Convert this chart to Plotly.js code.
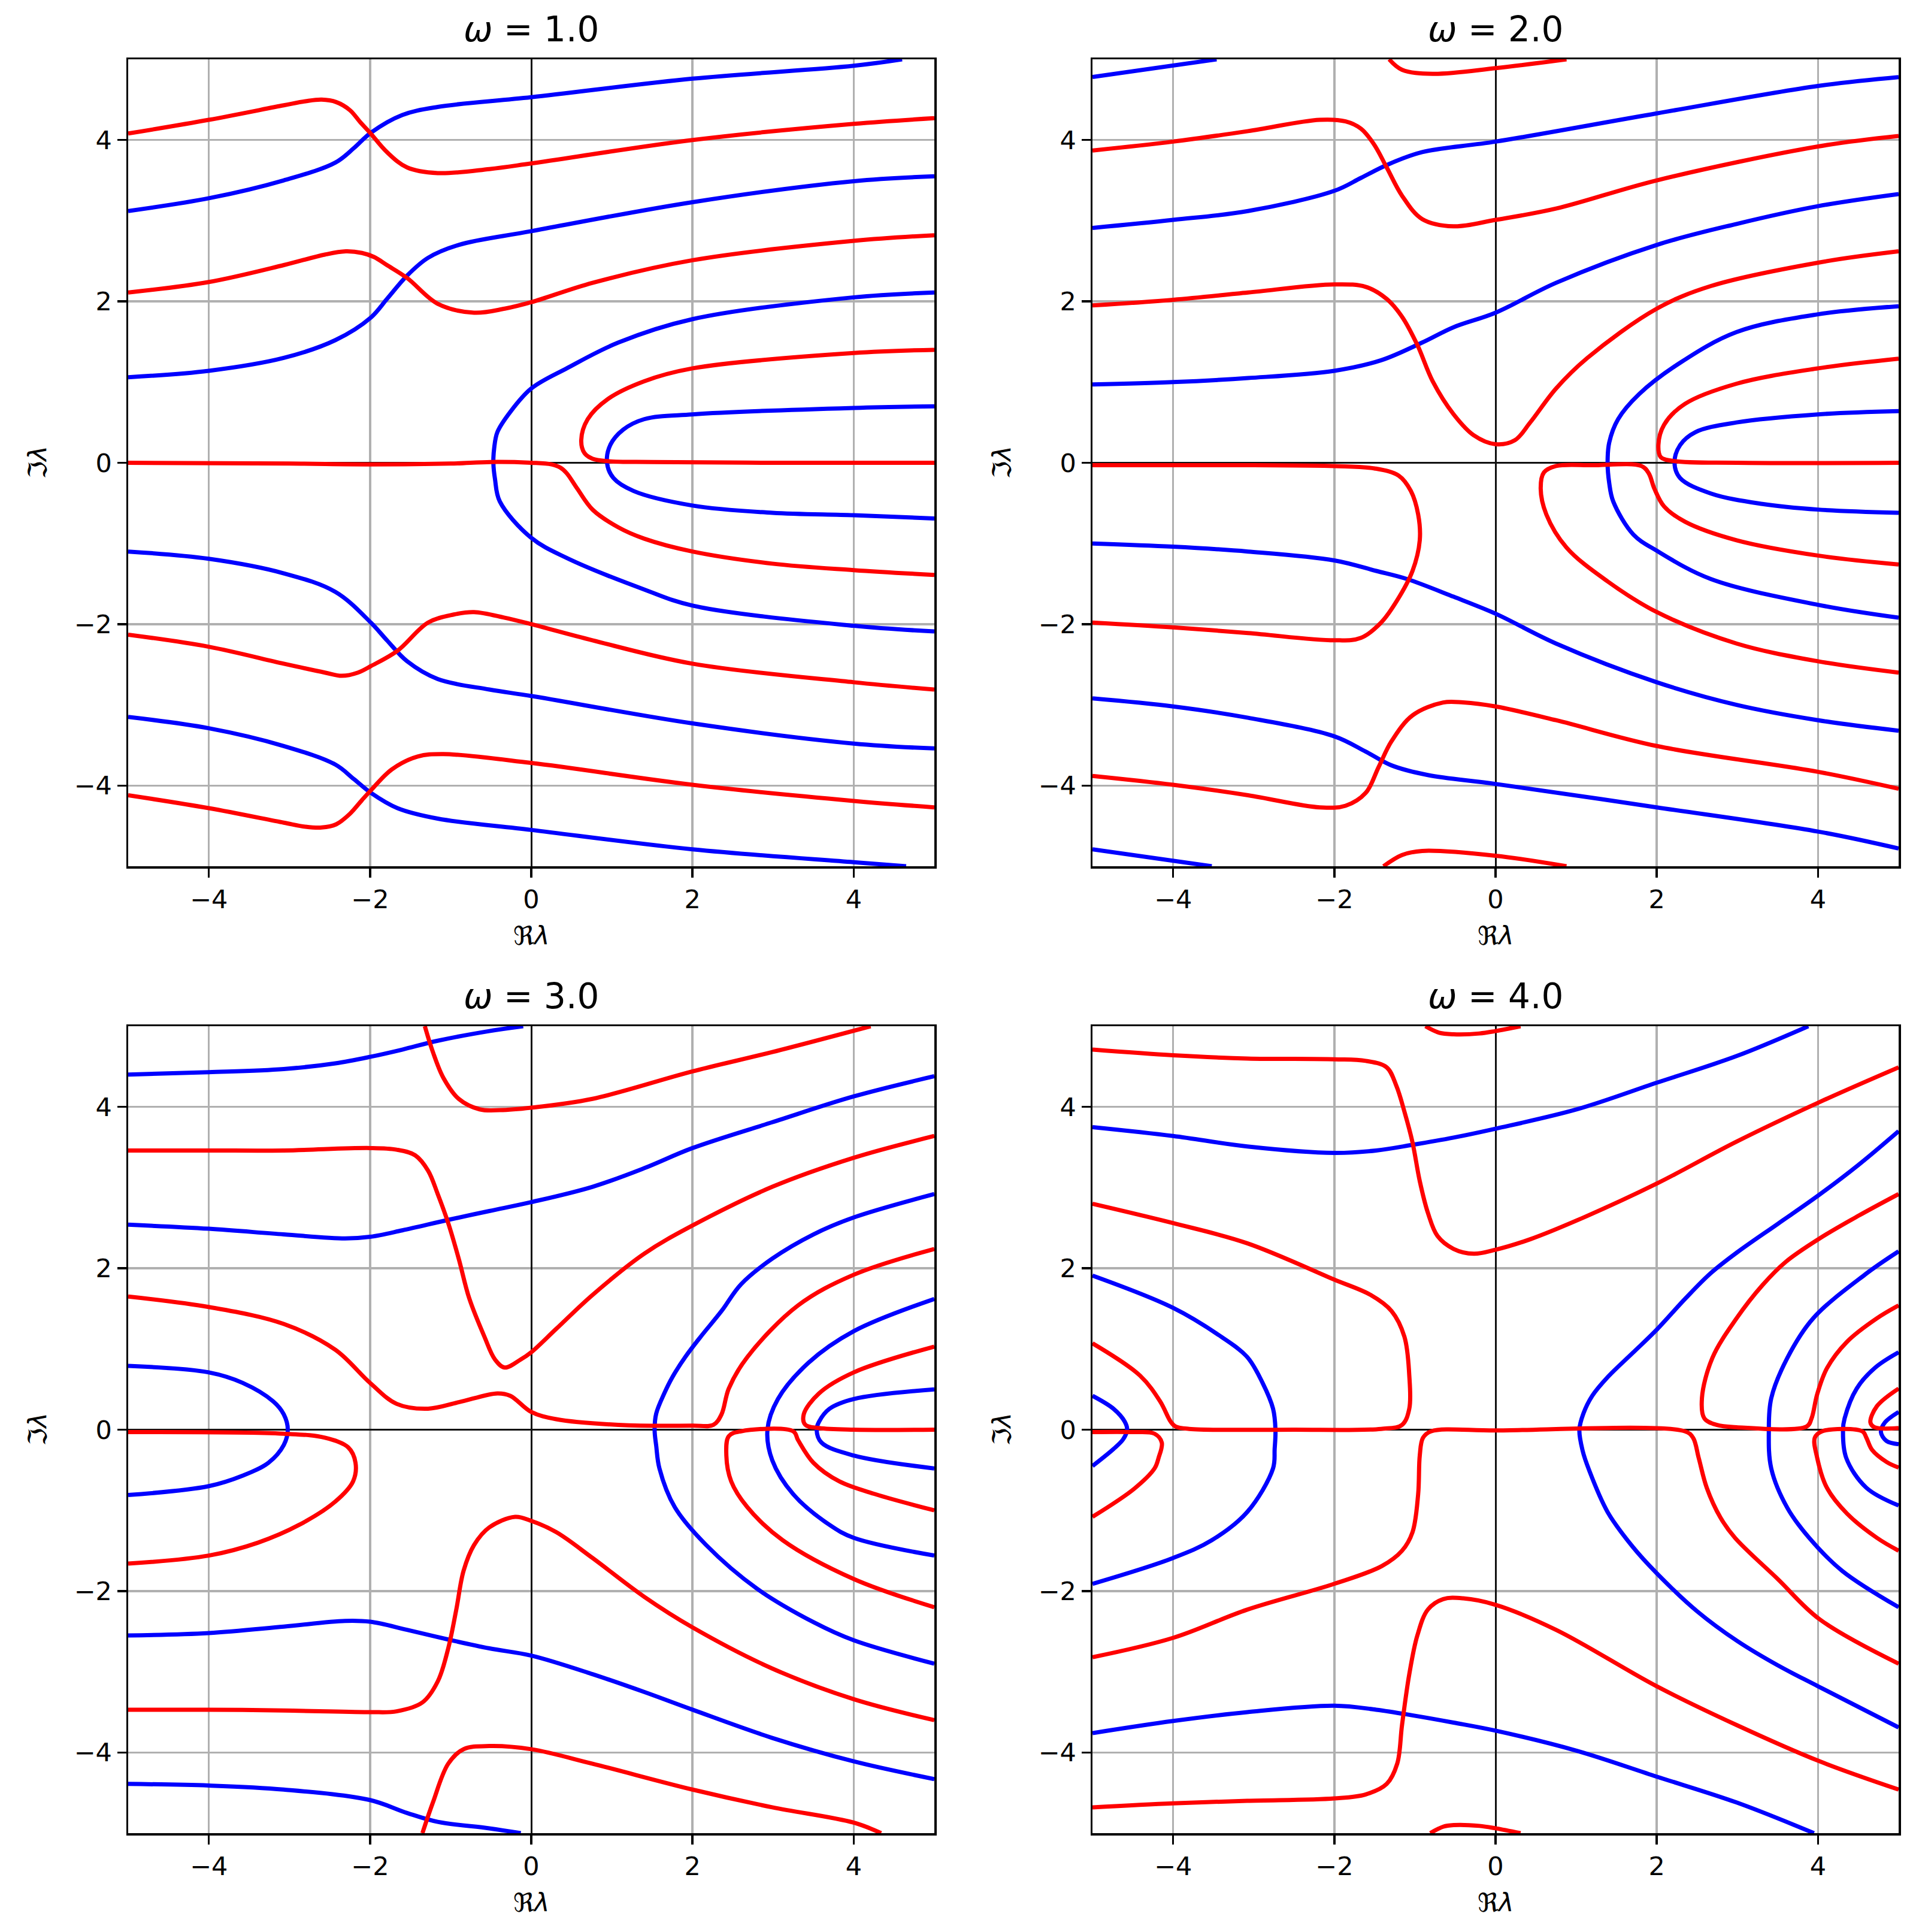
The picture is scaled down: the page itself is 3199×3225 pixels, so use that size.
<!DOCTYPE html>
<html><head><meta charset="utf-8">
<script src="https://cdn.plot.ly/plotly-3.0.1.min.js"></script>
<style>body{margin:0;background:#fff}</style>
</head><body>
<div id="chart" style="width:3199px;height:3225px"></div>
<script>
// ---------- ω = 1.0 ----------
const w1_blue_1 = [[-5,3.12],[-3.99,3.28],[-3.07,3.50],[-2.43,3.72],[-2.2,3.90],[-1.99,4.09],[-1.60,4.31],[-1.16,4.41],[0,4.53],[2,4.76],[4,4.92],[4.6,5.0]];
const w1_blue_2 = [[-5,1.06],[-4,1.14],[-3.07,1.30],[-2.43,1.52],[-1.99,1.80],[-1.79,2.03],[-1.54,2.32],[-1.28,2.54],[-0.9,2.70],[0,2.87],[2,3.23],[4,3.49],[5,3.55]];
const w1_blue_3 = [[5,2.11],[4,2.05],[2,1.78],[1.08,1.49],[0.44,1.17],[0,0.92],[-0.26,0.63],[-0.42,0.38],[-0.46,0.18],[-0.47,0],[-0.45,-0.2],[-0.39,-0.48],[0,-0.93],[0.44,-1.18],[1.40,-1.57],[2,-1.77],[4,-2.02],[5,-2.09]];
const w1_blue_4 = [[5,0.70],[4,0.68],[2,0.60],[1.40,0.54],[1.14,0.41],[0.98,0.22],[0.94,0],[1.02,-0.19],[1.27,-0.35],[2,-0.53],[2.99,-0.62],[4,-0.65],[5,-0.69]];
const w1_blue_5 = [[-5,-1.10],[-4,-1.19],[-3.07,-1.37],[-2.43,-1.60],[-1.99,-1.98],[-1.79,-2.20],[-1.54,-2.46],[-1.16,-2.68],[-0.52,-2.81],[0,-2.89],[2,-3.23],[4,-3.48],[5,-3.54]];
const w1_blue_6 = [[-5,-3.15],[-4,-3.29],[-3.07,-3.51],[-2.43,-3.74],[-2.2,-3.92],[-1.99,-4.09],[-1.66,-4.28],[-1.16,-4.41],[0,-4.55],[2,-4.79],[4,-4.95],[4.65,-5.0]];
const w1_red_1 = [[-5,4.08],[-4,4.25],[-3.07,4.43],[-2.8,4.48],[-2.6,4.50],[-2.42,4.47],[-2.25,4.37],[-2.12,4.22],[-2.0,4.09],[-1.79,3.85],[-1.54,3.66],[-1.16,3.59],[-0.52,3.64],[0,3.71],[2,4.0],[4,4.20],[5,4.27]];
const w1_red_2 = [[-5,2.11],[-4,2.24],[-3.07,2.45],[-2.56,2.58],[-2.3,2.62],[-2.1,2.60],[-1.95,2.55],[-1.79,2.45],[-1.54,2.29],[-1.16,1.97],[-0.71,1.86],[-0.33,1.91],[0,1.99],[0.76,2.23],[2,2.51],[4,2.75],[5,2.82]];
const w1_red_3 = [[5,1.40],[4,1.36],[2,1.17],[1.40,1.01],[0.95,0.79],[0.70,0.54],[0.62,0.28],[0.66,0.12],[0.76,0.05],[0.95,0.02],[1.5,0.01],[3,0.0],[5,0.0]];
const w1_red_4 = [[-5,0.0],[-3,-0.01],[-2,-0.02],[-1,-0.01],[-0.5,0.01],[0,0.0],[0.25,-0.02],[0.36,-0.06],[0.44,-0.13],[0.57,-0.32],[0.76,-0.58],[1.08,-0.80],[1.40,-0.94],[2,-1.10],[2.99,-1.25],[4,-1.33],[5,-1.39]];
const w1_red_5 = [[-5,-2.13],[-4,-2.28],[-3.07,-2.49],[-2.56,-2.60],[-2.35,-2.64],[-2.15,-2.60],[-1.99,-2.52],[-1.66,-2.33],[-1.28,-1.98],[-0.96,-1.88],[-0.71,-1.85],[-0.33,-1.92],[0,-2.0],[0.76,-2.20],[2,-2.49],[4,-2.72],[5,-2.81]];
const w1_red_6 = [[-5,-4.12],[-4,-4.28],[-3.07,-4.46],[-2.8,-4.51],[-2.6,-4.52],[-2.42,-4.48],[-2.25,-4.35],[-2.1,-4.18],[-1.99,-4.06],[-1.73,-3.80],[-1.41,-3.64],[-1.09,-3.61],[0,-3.72],[2,-3.99],[4,-4.19],[5,-4.27]];

// ---------- ω = 2.0 ----------
const w2_blue_0 = [[-5,4.78],[-3.46,5.0]];
const w2_blue_1 = [[-5,2.91],[-4,3.01],[-3.07,3.12],[-2,3.37],[-1.67,3.53],[-1.35,3.69],[-0.91,3.85],[0,3.98],[2,4.33],[4,4.67],[5,4.78]];
const w2_blue_2 = [[-5,0.97],[-4,1.0],[-3.07,1.05],[-2,1.14],[-1.42,1.27],[-0.91,1.49],[-0.52,1.68],[0,1.86],[0.75,2.23],[2,2.70],[2.99,2.96],[4,3.18],[5,3.33]];
const w2_blue_3 = [[5,1.94],[4,1.84],[2.99,1.62],[2.29,1.24],[1.78,0.85],[1.52,0.54],[1.41,0.25],[1.39,0],[1.41,-0.25],[1.46,-0.48],[1.71,-0.89],[2,-1.09],[2.67,-1.44],[4,-1.76],[5,-1.92]];
const w2_blue_4 = [[5,0.64],[4,0.60],[2.99,0.50],[2.48,0.38],[2.29,0.22],[2.22,0],[2.29,-0.19],[2.67,-0.38],[3.31,-0.51],[4,-0.58],[5,-0.62]];
const w2_blue_5 = [[-5,-1.0],[-4,-1.04],[-3.07,-1.10],[-2,-1.21],[-1.48,-1.34],[-1.1,-1.44],[-0.52,-1.66],[0,-1.87],[0.75,-2.24],[2,-2.72],[2.99,-3.0],[4,-3.19],[5,-3.32]];
const w2_blue_6 = [[-5,-2.92],[-4,-3.02],[-3.07,-3.16],[-2,-3.39],[-1.61,-3.58],[-1.29,-3.75],[-0.84,-3.87],[0,-3.98],[2,-4.27],[4,-4.57],[5,-4.78]];
const w2_blue_7 = [[-5,-4.79],[-3.52,-5.0]];
const w2_red_0 = [[-1.32,5.0],[-1.16,4.87],[-0.78,4.82],[0,4.89],[0.88,5.0]];
const w2_red_1 = [[-5,3.87],[-4,3.98],[-3.07,4.11],[-2.18,4.25],[-1.86,4.23],[-1.67,4.14],[-1.51,3.95],[-1.35,3.66],[-1.16,3.31],[-0.91,3.02],[-0.52,2.93],[0,3.01],[0.75,3.15],[2,3.50],[4,3.92],[5,4.05]];
const w2_red_2 = [[-5,1.95],[-4,2.02],[-3.07,2.11],[-2,2.21],[-1.61,2.18],[-1.35,2.03],[-1.16,1.81],[-0.97,1.46],[-0.78,1.01],[-0.52,0.60],[-0.27,0.34],[0,0.23],[0.24,0.28],[0.43,0.50],[0.75,0.92],[1.14,1.30],[2,1.91],[2.67,2.19],[4,2.48],[5,2.62]];
const w2_red_3 = [[5,1.29],[4,1.17],[2.99,0.98],[2.35,0.73],[2.09,0.47],[2.02,0.22],[2.05,0.07],[2.22,0.02],[3,0.0],[5,0.0]];
const w2_red_4 = [[-5,-0.03],[-3,-0.03],[-2,-0.04],[-1.5,-0.07],[-1.2,-0.16],[-1.05,-0.35],[-0.96,-0.64],[-0.94,-0.96],[-1.03,-1.34],[-1.23,-1.72],[-1.42,-1.98],[-1.67,-2.17],[-2,-2.20],[-3.07,-2.11],[-4,-2.04],[-5,-1.98]];
const w2_red_5 = [[5,-2.60],[4,-2.46],[2.99,-2.24],[2,-1.85],[1.39,-1.47],[0.88,-1.05],[0.63,-0.64],[0.56,-0.32],[0.60,-0.12],[0.75,-0.04],[1.2,-0.03],[1.81,-0.04],[1.90,-0.13],[1.97,-0.32],[2.09,-0.54],[2.35,-0.73],[2.99,-0.96],[4,-1.15],[5,-1.26]];
const w2_red_6 = [[-5,-3.88],[-4,-3.99],[-3.07,-4.12],[-2.18,-4.27],[-1.86,-4.25],[-1.61,-4.09],[-1.45,-3.77],[-1.29,-3.45],[-1.03,-3.13],[-0.65,-2.97],[-0.40,-2.97],[0,-3.02],[0.75,-3.19],[2,-3.51],[4,-3.83],[5,-4.04]];
const w2_red_7 = [[-1.39,-5.0],[-1.16,-4.86],[-0.91,-4.81],[0,-4.87],[0.88,-5.0]];

// ---------- ω = 3.0 ----------
const w3_blue_0 = [[-5,4.40],[-4,4.43],[-3.07,4.47],[-2.43,4.54],[-2,4.62],[-1.60,4.71],[-1.16,4.82],[-0.52,4.94],[-0.1,5.0]];
const w3_blue_1 = [[-5,2.54],[-4,2.49],[-3.07,2.42],[-2.31,2.37],[-2,2.39],[-1.60,2.47],[-1.03,2.60],[-0.52,2.71],[0,2.82],[0.76,3.01],[1.40,3.24],[2,3.49],[2.99,3.81],[4,4.13],[5,4.38]];
const w3_blue_2 = [[5,2.92],[4,2.63],[3.5,2.42],[2.99,2.12],[2.6,1.8],[2.36,1.47],[2.1,1.15],[1.91,0.90],[1.75,0.65],[1.65,0.45],[1.55,0.2],[1.53,0],[1.55,-0.2],[1.59,-0.48],[1.78,-0.96],[2.17,-1.43],[2.80,-1.97],[3.51,-2.39],[4,-2.61],[5,-2.90]];
const w3_blue_3 = [[5,1.62],[4,1.22],[3.44,0.83],[3.06,0.38],[2.93,0],[2.99,-0.38],[3.25,-0.80],[3.70,-1.18],[4,-1.34],[5,-1.56]];
const w3_blue_4 = [[5,0.50],[4,0.38],[3.70,0.26],[3.57,0.10],[3.54,0],[3.6,-0.16],[4,-0.32],[5,-0.48]];
const w3_blue_5 = [[-5,0.79],[-4,0.71],[-3.58,0.58],[-3.2,0.35],[-3.07,0.19],[-3.02,0],[-3.07,-0.19],[-3.26,-0.41],[-3.58,-0.57],[-4,-0.70],[-5,-0.81]];
const w3_blue_6 = [[-5,-2.55],[-4,-2.52],[-3.07,-2.44],[-2.31,-2.37],[-2,-2.38],[-1.54,-2.48],[-1.03,-2.60],[-0.52,-2.71],[0,-2.80],[0.76,-3.03],[1.40,-3.25],[2,-3.47],[2.99,-3.82],[4,-4.11],[5,-4.33]];
const w3_blue_7 = [[-5,-4.39],[-4,-4.41],[-3.07,-4.46],[-2,-4.59],[-1.54,-4.75],[-1.16,-4.86],[-0.52,-4.94],[-0.13,-5.0]];
const w3_red_0 = [[-1.32,5.0],[-1.22,4.68],[-1.09,4.36],[-0.90,4.10],[-0.64,3.97],[-0.39,3.96],[0,3.99],[0.76,4.10],[2,4.44],[2.99,4.68],[4.21,5.0]];
const w3_red_1 = [[-5,3.46],[-4,3.46],[-3.07,3.46],[-2,3.49],[-1.67,3.47],[-1.44,3.40],[-1.28,3.21],[-1.16,2.92],[-1.03,2.56],[-0.90,2.12],[-0.77,1.63],[-0.58,1.15],[-0.45,0.87],[-0.33,0.77],[-0.13,0.87],[0,0.96],[0.31,1.25],[0.76,1.67],[1.40,2.18],[2,2.53],[2.99,3.01],[4,3.37],[5,3.64]];
const w3_red_2 = [[-5,1.65],[-4,1.52],[-3.07,1.31],[-2.43,0.99],[-2,0.58],[-1.67,0.32],[-1.28,0.26],[-0.90,0.34],[-0.42,0.45],[-0.26,0.42],[0,0.22],[0.31,0.13],[1.08,0.06],[2,0.05],[2.26,0.06],[2.36,0.19],[2.45,0.51],[2.68,0.90],[3.31,1.54],[4,1.92],[5,2.24]];
const w3_red_3 = [[5,1.03],[4,0.71],[3.57,0.45],[3.38,0.19],[3.40,0.06],[3.57,0.02],[4,0.0],[5,0.0]];
const w3_red_4 = [[-5,-0.03],[-3.07,-0.05],[-2.56,-0.10],[-2.27,-0.22],[-2.18,-0.41],[-2.21,-0.64],[-2.43,-0.89],[-2.88,-1.18],[-3.39,-1.40],[-4,-1.56],[-5,-1.66]];
const w3_red_5 = [[5,-2.20],[4,-1.85],[3.12,-1.37],[2.68,-0.96],[2.48,-0.64],[2.42,-0.32],[2.45,-0.08],[2.6,-0.02],[3.25,-0.02],[3.31,-0.13],[3.5,-0.41],[3.82,-0.64],[4.27,-0.80],[5,-1.0]];
const w3_red_6 = [[-5,-3.47],[-4,-3.47],[-3.07,-3.48],[-2,-3.50],[-1.67,-3.49],[-1.35,-3.38],[-1.16,-3.12],[-1.03,-2.71],[-0.93,-2.23],[-0.84,-1.75],[-0.71,-1.43],[-0.52,-1.21],[-0.2,-1.08],[0,-1.13],[0.31,-1.27],[0.76,-1.59],[1.40,-2.07],[2,-2.45],[2.99,-2.96],[4,-3.34],[5,-3.60]];
const w3_red_7 = [[-1.35,-5.0],[-1.22,-4.62],[-1.03,-4.14],[-0.84,-3.96],[-0.52,-3.92],[0,-3.96],[0.76,-4.14],[2,-4.46],[2.99,-4.68],[4,-4.87],[4.34,-5.0]];

// ---------- ω = 4.0 ----------
const w4_blue_1 = [[-5,3.75],[-4,3.64],[-3.08,3.51],[-2,3.43],[-1.48,3.46],[-1.03,3.53],[-0.52,3.62],[0,3.73],[1.01,3.97],[2,4.30],[2.99,4.63],[3.88,5.0]];
const w4_blue_2 = [[-5,1.91],[-4,1.51],[-3.40,1.15],[-3.08,0.90],[-2.89,0.58],[-2.76,0.26],[-2.73,0],[-2.74,-0.24],[-2.76,-0.48],[-3.08,-1.02],[-3.52,-1.37],[-4,-1.59],[-5,-1.91]];
const w4_blue_3 = [[-5,0.42],[-4.74,0.26],[-4.6,0.1],[-4.57,0],[-4.62,-0.12],[-4.74,-0.24],[-5,-0.45]];
const w4_blue_4 = [[5,3.70],[4.5,3.28],[4,2.9],[3.5,2.55],[3,2.2],[2.67,1.94],[2.35,1.62],[2,1.24],[1.7,0.95],[1.39,0.65],[1.2,0.42],[1.09,0.2],[1.04,0],[1.08,-0.26],[1.16,-0.5],[1.39,-1.02],[1.7,-1.45],[2,-1.78],[2.5,-2.25],[3,-2.62],[3.5,-2.92],[4,-3.18],[5,-3.69]];
const w4_blue_5 = [[5,2.21],[4.58,1.92],[3.94,1.38],[3.62,0.89],[3.42,0.39],[3.39,0],[3.42,-0.48],[3.62,-0.97],[3.89,-1.34],[4.3,-1.75],[5,-2.20]];
const w4_blue_6 = [[5,0.96],[4.71,0.77],[4.48,0.51],[4.33,0.14],[4.31,0],[4.35,-0.35],[4.6,-0.72],[5,-0.94]];
const w4_blue_7 = [[5,0.22],[4.83,0.09],[4.78,-0.03],[4.85,-0.14],[5,-0.18]];
const w4_blue_8 = [[-5,-3.76],[-4,-3.61],[-3.08,-3.50],[-2,-3.42],[-1.48,-3.47],[-1.03,-3.54],[-0.52,-3.63],[0,-3.73],[1.01,-3.98],[2,-4.30],[2.99,-4.62],[3.95,-5.0]];
const w4_red_0 = [[-0.87,5.0],[-0.7,4.92],[-0.52,4.90],[-0.2,4.91],[0,4.94],[0.31,5.0]];
const w4_red_1 = [[-5,4.71],[-4,4.64],[-3.08,4.60],[-2,4.59],[-1.61,4.57],[-1.35,4.49],[-1.23,4.26],[-1.13,3.94],[-1.03,3.56],[-0.94,3.08],[-0.84,2.69],[-0.72,2.40],[-0.52,2.24],[-0.27,2.18],[0,2.23],[0.43,2.36],[1.07,2.62],[2,3.05],[2.99,3.57],[4.02,4.06],[5,4.49]];
const w4_red_2 = [[-5,2.80],[-4,2.56],[-3.08,2.31],[-2,1.86],[-1.55,1.67],[-1.29,1.47],[-1.13,1.15],[-1.07,0.67],[-1.07,0.26],[-1.16,0.06],[-1.42,0.01],[-2.5,0.0],[-3.8,0.01],[-3.97,0.04],[-4.03,0.10],[-4.16,0.35],[-4.41,0.67],[-5,1.07]];
const w4_red_3 = [[5,2.92],[4.5,2.65],[4.02,2.37],[3.6,2.08],[3.31,1.79],[2.99,1.38],[2.69,0.89],[2.56,0.39],[2.59,0.14],[2.74,0.06],[2.99,0.03],[3.86,0.04],[3.92,0.14],[3.99,0.44],[4.11,0.76],[4.36,1.09],[4.73,1.38],[5,1.54]];
const w4_red_4 = [[5,0.51],[4.73,0.29],[4.65,0.09],[4.7,0.03],[5,0.02]];
const w4_red_5 = [[5,-1.50],[4.73,-1.34],[4.36,-1.04],[4.11,-0.72],[3.99,-0.35],[3.96,-0.1],[4.05,-0.02],[4.55,-0.02],[4.6,-0.1],[4.67,-0.25],[4.85,-0.40],[5,-0.47]];
const w4_red_6 = [[-5,-2.82],[-4,-2.58],[-3.08,-2.23],[-2,-1.91],[-1.41,-1.69],[-1.16,-1.50],[-1.03,-1.27],[-0.96,-0.80],[-0.94,-0.32],[-0.90,-0.1],[-0.8,-0.02],[0,-0.01],[2.35,-0.02],[2.45,-0.10],[2.52,-0.35],[2.62,-0.72],[2.79,-1.09],[2.97,-1.34],[3.50,-1.85],[4.02,-2.35],[5,-2.90]];
const w4_red_7 = [[-5,-0.03],[-4.5,-0.03],[-4.23,-0.05],[-4.14,-0.16],[-4.18,-0.35],[-4.23,-0.48],[-4.48,-0.73],[-5,-1.08]];
const w4_red_8 = [[-5,-4.68],[-4,-4.63],[-3.08,-4.60],[-2,-4.57],[-1.61,-4.52],[-1.35,-4.39],[-1.22,-4.14],[-1.16,-3.66],[-1.07,-3.03],[-0.97,-2.55],[-0.84,-2.23],[-0.65,-2.10],[-0.40,-2.09],[0,-2.17],[0.75,-2.48],[2,-3.18],[2.99,-3.66],[4.02,-4.11],[5,-4.46]];
const w4_red_9 = [[-0.81,-5.0],[-0.65,-4.92],[-0.52,-4.90],[-0.2,-4.91],[0,-4.94],[0.31,-5.0]];

// panel titles and tick labels
const panelTitles = ['<i>ω</i> = 1.0', '<i>ω</i> = 2.0', '<i>ω</i> = 3.0', '<i>ω</i> = 4.0'];
const tickValues = [-4, -2, 0, 2, 4];
const tickLabels = ['−4', '−2', '0', '2', '4'];
const xLabel = 'ℜ<i>λ</i>';
const yLabel = 'ℑ<i>λ</i>';

const panelBlue = [
  [w1_blue_1, w1_blue_2, w1_blue_3, w1_blue_4, w1_blue_5, w1_blue_6],
  [w2_blue_0, w2_blue_1, w2_blue_2, w2_blue_3, w2_blue_4, w2_blue_5, w2_blue_6, w2_blue_7],
  [w3_blue_0, w3_blue_1, w3_blue_2, w3_blue_3, w3_blue_4, w3_blue_5, w3_blue_6, w3_blue_7],
  [w4_blue_1, w4_blue_2, w4_blue_3, w4_blue_4, w4_blue_5, w4_blue_6, w4_blue_7, w4_blue_8]
];
const panelRed = [
  [w1_red_1, w1_red_2, w1_red_3, w1_red_4, w1_red_5, w1_red_6],
  [w2_red_0, w2_red_1, w2_red_2, w2_red_3, w2_red_4, w2_red_5, w2_red_6, w2_red_7],
  [w3_red_0, w3_red_1, w3_red_2, w3_red_3, w3_red_4, w3_red_5, w3_red_6, w3_red_7],
  [w4_red_0, w4_red_1, w4_red_2, w4_red_3, w4_red_4, w4_red_5, w4_red_6, w4_red_7, w4_red_8, w4_red_9]
];

// ---------- layout geometry (pixels) ----------
const W = 3199, H = 3225;
const colPx = [[214, 1560], [1824, 3170]];
const rowPx = [[99, 1446], [1713, 3060]];
const FONT = 'DejaVu Sans, sans-serif';

const traces = [];
const layout = {
  width: W, height: H, margin: {l: 0, r: 0, t: 0, b: 0},
  paper_bgcolor: '#fff', plot_bgcolor: '#fff', showlegend: false,
  font: {family: FONT, color: '#000'},
  annotations: []
};

function axisBase(domain, anchor) {
  return {
    domain: domain, anchor: anchor, range: [-5, 5], autorange: false,
    tickmode: 'array', tickvals: tickValues, ticktext: tickLabels,
    showgrid: true, gridcolor: '#b0b0b0', gridwidth: 3.5,
    zeroline: true, zerolinecolor: '#111', zerolinewidth: 3,
    showline: true, mirror: true, linecolor: '#000', linewidth: 3.5,
    ticks: 'outside', ticklen: 15, tickwidth: 3.5, tickcolor: '#000',
    tickfont: {family: FONT, size: 43, color: '#000'},
    fixedrange: true, layer: 'below traces'
  };
}

for (let p = 0; p < 4; p++) {
  const c = p % 2, r = Math.floor(p / 2);
  const suf = p === 0 ? '' : String(p + 1);
  const xa = 'x' + suf, ya = 'y' + suf;
  const xd = [colPx[c][0] / W, colPx[c][1] / W];
  const yd = [1 - rowPx[r][1] / H, 1 - rowPx[r][0] / H];
  layout['xaxis' + suf] = axisBase(xd, ya);
  layout['yaxis' + suf] = axisBase(yd, xa);

  const mk = (pts, color) => ({
    x: pts.map(q => q[0]), y: pts.map(q => q[1]), xaxis: xa, yaxis: ya,
    type: 'scatter', mode: 'lines', hoverinfo: 'skip',
    line: {color: color, width: 7, shape: 'spline', smoothing: 1.0}
  });
  panelBlue[p].forEach(s => traces.push(mk(s, '#0000ff')));
  panelRed[p].forEach(s => traces.push(mk(s, '#ff0000')));

  const cx = (colPx[c][0] + colPx[c][1]) / 2 / W;
  const cy = (rowPx[r][0] + rowPx[r][1]) / 2;
  layout.annotations.push({
    text: panelTitles[p], xref: 'paper', yref: 'paper', showarrow: false,
    x: cx, y: 1 - (rowPx[r][0] - 50) / H, xanchor: 'center', yanchor: 'middle',
    font: {family: FONT, size: 58, color: '#000'}
  });
  layout.annotations.push({
    text: xLabel, xref: 'paper', yref: 'paper', showarrow: false,
    x: cx, y: 1 - (rowPx[r][1] + 116) / H, xanchor: 'center', yanchor: 'middle',
    font: {family: FONT, size: 43, color: '#000'}
  });
  layout.annotations.push({
    text: yLabel, xref: 'paper', yref: 'paper', showarrow: false, textangle: -90,
    x: (colPx[c][0] - 152) / W, y: 1 - cy / H, xanchor: 'center', yanchor: 'middle',
    font: {family: FONT, size: 43, color: '#000'}
  });
}

Plotly.newPlot('chart', traces, layout, {staticPlot: true, displayModeBar: false});
</script>
</body></html>
